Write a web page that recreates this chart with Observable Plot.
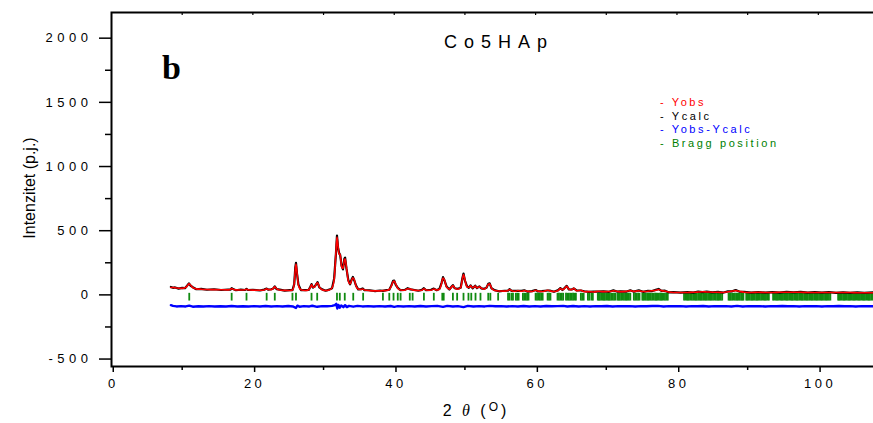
<!DOCTYPE html>
<html><head><meta charset="utf-8">
<script src="https://cdn.jsdelivr.net/npm/d3@7"></script>
<script src="https://cdn.jsdelivr.net/npm/@observablehq/plot@0.6"></script>
<style>
body{margin:0;background:#fff;}
#wrap{position:relative;width:873px;height:423px;font-family:"Liberation Sans",Arial,sans-serif;overflow:hidden;}
#wrap svg{position:absolute;left:0;top:0;}
.ov{position:absolute;white-space:nowrap;color:#000;}
g[aria-label="y-axis tick label"] text{letter-spacing:4.5px;}
g[aria-label="x-axis tick label"] text{letter-spacing:3.5px;}
</style></head><body><div id="wrap"></div>
<script>
// profile: [2theta, red curve (Yobs legend colour), black curve (Ycalc legend colour)]
const profile = [
[8.4,57,62],[8.7,58,55],[9.0,55,58],[9.5,52,49],[10.0,51,54],[10.4,55,52],[10.7,68,72],[10.95,86,90],[11.2,75,71],[11.5,56,60],[12.0,47,44],[12.7,44,47],[13.5,42,40],[14.5,41,44],[15.5,40,38],[16.5,39,42],[16.85,44,41],[17.0,50,53],[17.2,44,45],[17.6,39,36],[18.3,38,41],[18.9,40,38],[19.1,44,47],[19.3,40,38],[20.0,37,40],[21.0,36,34],[21.6,38,41],[21.95,47,49],[22.2,42,40],[22.6,41,44],[22.9,52,50],[23.1,62,66],[23.35,48,45],[23.8,38,41],[24.5,35,33],[25.2,34,37],[25.6,38,36],[25.85,90,84],[26.0,200,212],[26.1,240,250],[26.25,170,163],[26.45,75,80],[26.8,40,37],[27.4,34,37],[27.9,40,38],[28.15,62,66],[28.3,80,84],[28.5,60,56],[28.75,62,66],[29.0,88,85],[29.15,94,99],[29.4,62,58],[29.8,40,43],[30.3,34,32],[30.8,38,41],[31.2,55,52],[31.5,120,128],[31.75,330,320],[31.9,450,462],[32.05,380,370],[32.2,315,326],[32.35,318,312],[32.55,220,228],[32.75,205,198],[32.95,272,282],[33.05,282,290],[33.25,210,202],[33.5,110,116],[33.75,85,82],[34.0,118,124],[34.15,134,140],[34.35,118,112],[34.6,68,72],[34.9,46,43],[35.3,42,45],[35.55,46,50],[35.8,38,36],[36.5,33,36],[37.3,31,29],[38.0,31,34],[38.4,33,31],[38.9,34,37],[39.3,42,40],[39.6,70,74],[39.85,104,110],[40.0,108,112],[40.2,85,80],[40.5,52,55],[40.9,38,36],[41.5,36,39],[41.9,48,52],[42.3,45,43],[42.7,37,40],[43.4,34,32],[43.9,36,39],[44.2,48,52],[44.5,38,36],[45.2,36,39],[45.6,46,49],[46.0,38,36],[46.4,44,47],[46.7,90,94],[46.9,132,138],[47.1,118,114],[47.4,62,66],[47.8,45,42],[48.1,60,63],[48.3,72,76],[48.55,55,52],[49.0,44,47],[49.4,58,56],[49.65,125,131],[49.8,158,166],[50.0,118,112],[50.3,62,66],[50.55,58,55],[50.8,70,74],[51.1,54,51],[51.45,68,72],[51.7,55,52],[52.05,62,66],[52.3,54,51],[52.7,44,47],[53.05,58,55],[53.3,82,86],[53.5,86,90],[53.75,55,52],[54.2,34,37],[54.8,30,28],[55.6,29,32],[56.1,34,32],[56.3,42,45],[56.6,33,31],[57.2,28,31],[57.5,34,32],[58.0,28,31],[58.4,34,36],[58.9,27,25],[59.5,26,29],[60.0,36,38],[60.3,30,28],[60.9,26,29],[61.7,36,34],[62.0,31,34],[62.6,26,24],[63.2,34,37],[63.5,50,53],[63.8,40,38],[64.1,50,54],[64.4,66,70],[64.7,46,43],[65.1,40,42],[65.4,52,50],[65.8,32,35],[66.4,36,34],[66.9,25,28],[67.5,25,23],[68.2,23,26],[68.9,28,26],[69.6,25,28],[70.4,26,24],[71.0,32,35],[71.5,28,26],[72.0,25,28],[72.8,27,25],[73.4,33,36],[73.9,27,25],[74.6,32,35],[75.2,26,24],[75.9,28,31],[76.5,32,30],[77.0,36,39],[77.4,42,46],[77.8,33,31],[78.3,30,33],[78.8,22,20],[79.5,19,22],[80.5,18,17],[81.5,19,22],[82.3,20,18],[83.0,22,25],[83.6,24,22],[84.2,23,26],[85.0,21,19],[85.8,20,23],[86.5,19,17],[87.2,24,27],[87.8,30,28],[88.3,33,38],[88.8,28,26],[89.5,21,24],[90.5,19,17],[91.5,20,22],[92.5,19,17],[93.5,19,21],[94.5,20,18],[95.5,21,24],[96.5,21,19],[97.5,20,23],[98.5,19,17],[99.5,19,21],[100.5,19,18],[101.5,19,21],[102.5,18,16],[103.5,18,20],[104.5,18,16],[105.5,17,19],[106.5,17,15],[107.8,17,19]
];
// difference curve (Yobs - Ycalc, shifted)
const diff = [
[8.4,-80],[8.7,-86],[9.2,-90],[9.8,-88],[10.5,-90],[11.0,-84],[11.5,-92],[12.3,-89],[13.0,-91],[13.8,-88],[14.6,-91],[15.4,-89],[16.2,-90],[17.0,-87],[17.8,-91],[18.6,-89],[19.4,-90],[20.2,-88],[21.0,-90],[21.8,-87],[22.6,-90],[23.4,-88],[24.2,-90],[25.0,-87],[25.7,-90],[25.95,-98],[26.1,-102],[26.3,-84],[26.6,-92],[27.2,-88],[28.0,-90],[28.4,-85],[29.1,-93],[29.8,-88],[30.5,-89],[31.2,-86],[31.6,-80],[31.8,-70],[31.95,-106],[32.1,-78],[32.3,-100],[32.5,-82],[32.8,-96],[33.05,-80],[33.3,-95],[33.6,-86],[34.2,-92],[34.8,-86],[35.5,-90],[36.3,-88],[37.1,-90],[37.9,-88],[38.7,-90],[39.5,-87],[40.0,-93],[40.5,-88],[41.3,-90],[42.1,-88],[42.9,-90],[43.7,-87],[44.5,-90],[45.3,-88],[46.1,-86],[46.9,-93],[47.5,-86],[48.3,-90],[49.0,-88],[49.8,-95],[50.4,-86],[51.2,-90],[52.0,-88],[52.8,-90],[53.5,-86],[54.3,-89],[55.1,-88],[55.9,-90],[56.7,-88],[57.5,-90],[58.3,-87],[59.1,-90],[59.9,-88],[60.7,-90],[61.5,-87],[62.3,-89],[63.1,-88],[63.9,-86],[64.5,-91],[65.3,-87],[66.1,-90],[66.9,-88],[67.7,-90],[68.5,-88],[69.3,-89],[70.1,-87],[70.9,-90],[71.7,-88],[72.5,-89],[73.3,-88],[74.1,-90],[74.9,-88],[75.7,-89],[76.5,-87],[77.3,-86],[78.1,-90],[78.9,-88],[79.7,-89],[80.5,-88],[81.3,-90],[82.1,-88],[82.9,-89],[83.7,-87],[84.5,-90],[85.3,-88],[86.1,-89],[86.9,-88],[87.7,-90],[88.5,-86],[89.3,-90],[90.1,-88],[90.9,-89],[91.7,-88],[92.5,-90],[93.3,-88],[94.1,-89],[94.9,-87],[95.7,-89],[96.5,-88],[97.3,-90],[98.1,-88],[98.9,-89],[99.7,-88],[100.5,-90],[101.3,-88],[102.1,-89],[102.9,-87],[103.7,-89],[104.5,-88],[105.3,-90],[106.1,-88],[106.9,-89],[107.8,-88]
];
// Bragg reflection positions (2theta)
const bragg = [11.0,17.0,19.1,21.95,23.1,25.6,26.1,28.3,29.1,31.9,32.3,33.0,34.2,35.6,38.4,39.3,39.9,40.5,40.9,42.2,42.6,44.2,45.6,46.8,47.0,48.3,48.9,49.8,50.5,50.9,51.5,52.2,53.3,53.6,54.7,
56.1,56.3,56.6,56.8,57.2,57.4,57.6,58.2,58.4,58.6,58.8,59.0,60.0,60.2,60.4,60.6,60.8,61.0,61.7,61.9,62.1,63.1,63.3,63.5,63.7,63.9,64.3,64.5,64.7,64.9,65.1,65.3,65.5,65.7,66.4,66.6,66.8,67.4,67.6,67.9,68.1,
68.8,68.95,69.1,69.3,69.5,69.65,69.8,70.0,70.2,70.35,70.5,70.7,70.9,71.1,71.3,71.6,71.75,71.9,72.1,72.3,72.5,72.7,72.85,73.0,73.2,73.4,73.9,74.1,74.3,74.5,74.7,75.1,75.25,75.4,75.6,75.8,75.95,76.1,76.3,76.5,76.7,76.9,77.05,77.2,77.4,77.6,77.75,77.9,78.1,78.3,78.5,78.7,
81.0,81.2,81.4,81.55,81.7,81.9,82.1,82.3,82.5,82.65,82.8,83.0,83.2,83.35,83.5,83.7,83.9,84.05,84.2,84.4,84.6,84.75,84.9,85.1,85.3,85.5,85.7,85.85,86.0,86.2,86.4,87.3,87.45,87.6,87.8,88.0,88.2,88.4,88.55,88.7,88.9,89.1,89.25,89.4,89.8,89.95,90.1,90.3,90.5,90.65,90.8,91.0,91.2,91.35,91.5,91.7,91.9,92.1,92.3,92.45,92.6,92.8,93.0,
93.6,93.8,94.0,94.15,94.3,94.5,94.7,94.85,95.0,95.2,95.4,95.55,95.7,95.9,96.1,96.25,96.4,96.6,96.8,96.95,97.1,97.3,97.5,97.65,97.8,98.0,98.2,98.35,98.5,98.7,98.9,99.05,99.2,99.4,99.6,99.75,99.9,100.1,100.3,100.45,100.6,100.8,101.0,101.15,101.3,101.5,101.7,
102.8,102.95,103.1,103.3,103.5,103.65,103.8,104.0,104.2,104.35,104.5,104.7,104.9,105.05,105.2,105.4,105.6,105.75,105.9,106.1,106.3,106.45,106.6,106.8,107.0,107.15,107.3,107.5,107.7];
const braggTop = 12, braggBottom = -48;
const xMajor = [0,20,40,60,80,100];
const xMinor = [10,30,50,70,90];
const xTop = [10,20,30,40,50,60,70,80,90,100];
const yMajor = [-500,0,500,1000,1500,2000];
const yMinor = [-250,250,750,1250,1750];
const xDomain = [0,108.37];
const yDomain = [-558,2200];
const legendItems = [["- Yobs","#ff0000"],["- Ycalc","#000000"],["- Yobs-Ycalc","#0000ff"],["- Bragg position","#008000"]];
const title = "Co5HAp";
const panelLetter = "b";
const yLabel = "Intenzitet (p.j.)";

const W = 873, H = 423, mL = 111, mR = -4, mT = 12, mB = 57;
const innerH = H - mT - mB;

const chart = Plot.plot({
  width: W, height: H,
  marginLeft: mL, marginRight: mR, marginTop: mT, marginBottom: mB,
  style: {fontFamily: '"Liberation Sans", Arial, sans-serif', fontSize: "13px", color: "#000", background: "transparent", overflow: "hidden"},
  x: {domain: xDomain},
  y: {domain: yDomain},
  marks: [
    Plot.ruleX(bragg, {x: d => d, y1: () => braggTop, y2: () => braggBottom, stroke: "#108a10", strokeWidth: 1.8}),
    Plot.line(diff, {x: d => d[0], y: d => d[1], stroke: "#0000ff", strokeWidth: 2.4}),
    Plot.line(profile, {x: d => d[0], y: d => d[2], stroke: "#000", strokeWidth: 2.2}),
    Plot.line(profile, {x: d => d[0], y: d => d[1], stroke: "#ff0000", strokeWidth: 1.6, curve: "monotone-x"}),
    Plot.axisY({ticks: yMajor, tickSize: 12, tickPadding: 7, tickFormat: d => String(d), fontSize: 13, strokeWidth: 1.5, label: null}),
    Plot.axisY({ticks: yMinor, tickSize: 6, tickFormat: () => "", strokeWidth: 1.5, label: null}),
    Plot.axisX({ticks: xMajor, tickSize: 6, tickPadding: 6, dx: 1.75, tickFormat: d => String(d), fontSize: 13, strokeWidth: 1.5, label: null}),
    Plot.axisX({ticks: xMinor, tickSize: 4, tickFormat: () => "", strokeWidth: 1.5, label: null}),
    Plot.tickX(xTop, {x: d => d, insetBottom: innerH - 3, stroke: "#000", strokeWidth: 1.2}),
    Plot.frame({stroke: "#000", strokeWidth: 2})
  ]
});
const wrap = document.getElementById("wrap");
wrap.appendChild(chart);

function ov(html, style) {
  const d = document.createElement("div");
  d.className = "ov";
  d.innerHTML = html;
  d.setAttribute("style", style);
  wrap.appendChild(d);
  return d;
}
ov(title, "left:444px;top:31px;font-size:18px;line-height:22px;letter-spacing:7px;");
ov(panelLetter, "left:162px;top:49px;font-family:'Liberation Serif',serif;font-weight:bold;font-size:34px;line-height:38px;");
legendItems.forEach(([t, c], i) => {
  ov(t, `left:660px;top:${96 + i * 13.5}px;font-size:11px;line-height:13.5px;letter-spacing:2.6px;color:${c};`);
});
ov(yLabel, "left:30px;top:188px;font-size:16px;line-height:18px;transform:translate(-50%,-50%) rotate(-90deg);");
ov('2 <span style="font-family:\'Liberation Serif\',serif;font-style:italic;">&theta;</span> (<span style="font-size:12px;position:relative;top:-5px;">O</span>)', "left:476px;top:411px;font-size:16px;line-height:18px;letter-spacing:3px;transform:translate(-50%,-50%);");
</script></body></html>
